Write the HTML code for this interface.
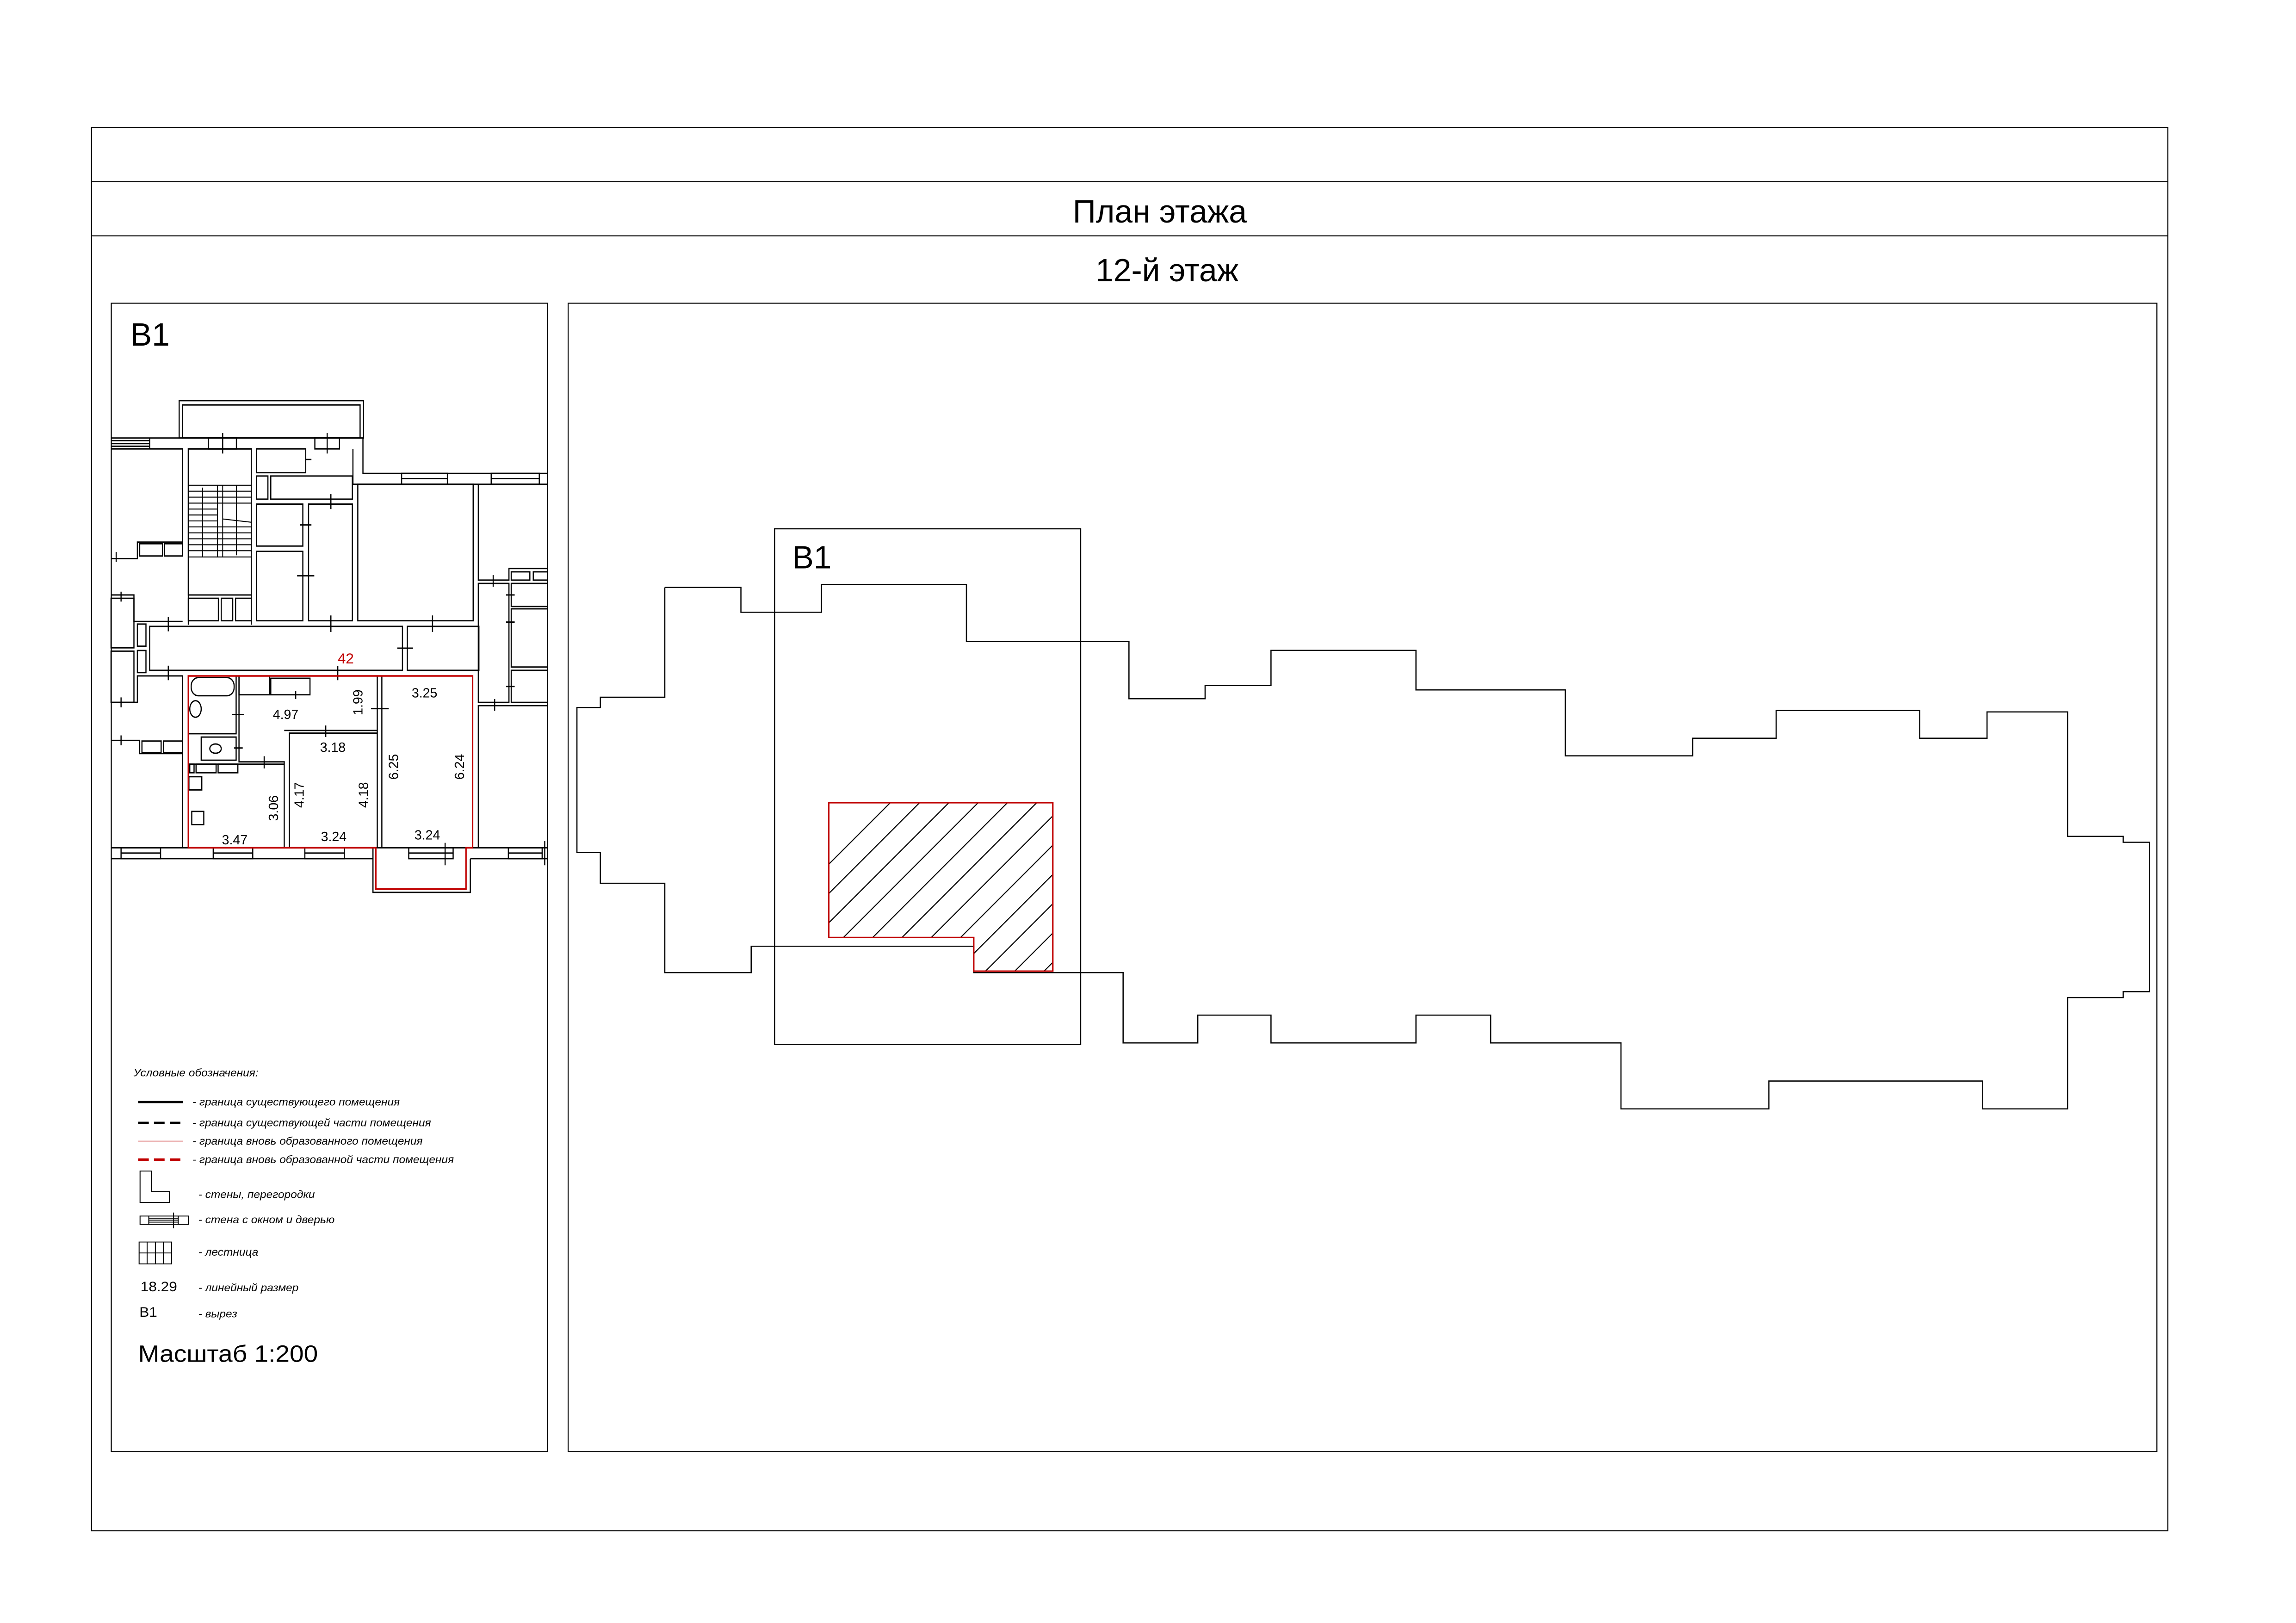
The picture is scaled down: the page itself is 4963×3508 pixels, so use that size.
<!DOCTYPE html>
<html><head><meta charset="utf-8"><style>
html,body{margin:0;padding:0;background:#fff}
svg{display:block}
text{font-family:"Liberation Sans",sans-serif}
</style></head><body>
<svg xmlns="http://www.w3.org/2000/svg" width="4963" height="3508" viewBox="0 0 1568 1108" preserveAspectRatio="none">
<rect width="1568" height="1108" fill="#fff"/>
<g fill="none" stroke="#000" stroke-width="0.7">
<rect x="62.5" y="87" width="1418" height="958"/>
<line x1="62.5" y1="124" x2="1480.5" y2="124"/>
<line x1="62.5" y1="161" x2="1480.5" y2="161"/>
<rect x="76" y="207" width="298" height="784"/>
<rect x="388" y="207" width="1085" height="784"/>
</g>
<text x="792" y="152" font-size="22" text-anchor="middle">План этажа</text>
<text x="797" y="192" font-size="22" text-anchor="middle">12-й этаж</text>
<text x="89" y="236" font-size="22">B1</text>

<polyline fill="none" stroke="#000" stroke-width="0.8" points="454,401 506,401 506,418 561,418 561,399 660,399 660,438 771,438 771,477 823,477 823,468 868,468 868,444 967,444 967,471 1069,471 1069,516 1156,516 1156,504 1213,504 1213,485 1311,485 1311,504 1357,504 1357,486 1412,486 1412,571 1450,571 1450,575 1468,575 1468,677 1450,677 1450,681 1412,681 1412,757 1354,757 1354,738 1208,738 1208,757 1107,757 1107,712 1018,712 1018,693 967,693 967,712 868,712 868,693 818,693 818,712 767,712 767,664 665,664 665,646 513,646 513,664 454,664 454,603 410,603 410,582 394,582 394,483 410,483 410,476 454,476 454,401"/>
<rect x="529" y="361" width="209" height="352" fill="none" stroke="#000" stroke-width="0.8"/>
<text x="541" y="388" font-size="22">B1</text>
<defs><clipPath id="hc"><polygon points="566,548 719,548 719,663 665,663 665,640 566,640"/></clipPath></defs>
<g clip-path="url(#hc)" stroke="#000" stroke-width="0.7">
<line x1="456" y1="700" x2="626" y2="530"/><line x1="476" y1="700" x2="646" y2="530"/><line x1="496" y1="700" x2="666" y2="530"/><line x1="516" y1="700" x2="686" y2="530"/><line x1="536" y1="700" x2="706" y2="530"/><line x1="556" y1="700" x2="726" y2="530"/><line x1="576" y1="700" x2="746" y2="530"/><line x1="596" y1="700" x2="766" y2="530"/><line x1="616" y1="700" x2="786" y2="530"/><line x1="636" y1="700" x2="806" y2="530"/><line x1="656" y1="700" x2="826" y2="530"/><line x1="676" y1="700" x2="846" y2="530"/><line x1="696" y1="700" x2="866" y2="530"/><line x1="716" y1="700" x2="886" y2="530"/>
</g>
<polygon points="566,548 719,548 719,663 665,663 665,640 566,640" fill="none" stroke="#c00000" stroke-width="1"/>

<g transform="translate(75.83,268.56) scale(0.1955,0.2256)" fill="none" stroke="#000" stroke-width="4">
<rect x="238" y="22" width="644" height="113"/>
<rect x="250" y="35" width="620" height="100"/>
<polyline points="0,135 880,135 880,242 1525,242"/>
<polyline points="0,168 250,168 250,455"/>
<line x1="0" y1="143" x2="135" y2="143"/><line x1="0" y1="152" x2="135" y2="152"/><line x1="0" y1="160" x2="135" y2="160"/>
<line x1="135" y1="135" x2="135" y2="168"/>
<rect x="340" y="135" width="98" height="33"/><rect x="712" y="135" width="86" height="33"/>
<line x1="390" y1="120" x2="390" y2="182"/><line x1="755" y1="120" x2="755" y2="182"/>
<polyline points="270,700 270,168 490,168 490,700"/>
<polyline points="845,168 845,275 1525,275"/>
<rect x="1015" y="242" width="160" height="33"/><rect x="1328" y="242" width="168" height="33"/>
<line x1="1015" y1="258" x2="1175" y2="258"/><line x1="1328" y1="258" x2="1496" y2="258"/>
<rect x="270" y="168" width="220" height="442"/>
<g stroke-width="3">
<line x1="270" y1="278" x2="490" y2="278"/><line x1="270" y1="296" x2="490" y2="296"/><line x1="270" y1="314" x2="490" y2="314"/><line x1="270" y1="332" x2="490" y2="332"/><line x1="270" y1="350" x2="372" y2="350"/><line x1="270" y1="368" x2="372" y2="368"/><line x1="270" y1="386" x2="372" y2="386"/><line x1="270" y1="404" x2="490" y2="404"/><line x1="270" y1="422" x2="490" y2="422"/><line x1="270" y1="440" x2="490" y2="440"/><line x1="270" y1="458" x2="490" y2="458"/><line x1="270" y1="476" x2="490" y2="476"/><line x1="270" y1="495" x2="490" y2="495"/>
<line x1="372" y1="278" x2="372" y2="495"/><line x1="390" y1="278" x2="390" y2="495"/>
<line x1="320" y1="285" x2="320" y2="495"/><line x1="438" y1="278" x2="438" y2="490"/>
<line x1="390" y1="380" x2="490" y2="390"/>
</g>
<rect x="270" y="620" width="105" height="68"/><rect x="385" y="620" width="40" height="68"/><rect x="435" y="620" width="55" height="68"/>
<rect x="508" y="168" width="172" height="72"/><rect x="508" y="250" width="40" height="70"/><rect x="558" y="250" width="285" height="70"/>
<rect x="508" y="335" width="162" height="127"/><rect x="508" y="478" width="162" height="210"/><rect x="690" y="335" width="153" height="353"/>
<rect x="862" y="275" width="403" height="413"/>
<line x1="680" y1="200" x2="700" y2="200"/><line x1="768" y1="305" x2="768" y2="350"/><line x1="660" y1="398" x2="700" y2="398"/><line x1="650" y1="552" x2="710" y2="552"/><line x1="768" y1="672" x2="768" y2="722"/><line x1="1123" y1="672" x2="1123" y2="722"/><line x1="200" y1="676" x2="200" y2="720"/><line x1="200" y1="824" x2="200" y2="868"/><line x1="1000" y1="771" x2="1055" y2="771"/>
<polyline points="0,500 92,500 92,450 250,450"/>
<rect x="100" y="455" width="80" height="37"/><rect x="187" y="455" width="63" height="37"/>
<line x1="18" y1="480" x2="18" y2="510"/>
<rect x="135" y="705" width="883" height="133"/><rect x="1035" y="705" width="250" height="133"/>
<polyline points="0,610 80,610 80,690 250,690"/>
<rect x="0" y="620" width="80" height="150"/><rect x="0" y="780" width="80" height="155"/>
<rect x="92" y="698" width="30" height="67"/><rect x="92" y="778" width="30" height="67"/>
<polyline points="0,935 92,935 92,855 250,855 250,1375"/>
<line x1="35" y1="600" x2="35" y2="630"/><line x1="35" y1="920" x2="35" y2="950"/><line x1="35" y1="1035" x2="35" y2="1065"/>
<polyline points="0,1050 100,1050 100,1090 250,1090"/>
<rect x="108" y="1052" width="67" height="36"/><rect x="183" y="1052" width="67" height="36"/>
<polyline points="1283,275 1283,565 1390,565 1390,530 1525,530"/>
<rect x="1283" y="575" width="107" height="360"/>
<rect x="1398" y="540" width="65" height="25"/><rect x="1475" y="540" width="50" height="25"/>
<rect x="1398" y="575" width="127" height="70"/><rect x="1398" y="652" width="127" height="176"/><rect x="1398" y="838" width="127" height="97"/>
<polyline points="1283,1375 1283,945 1525,945"/>
<line x1="1335" y1="550" x2="1335" y2="585"/><line x1="1340" y1="925" x2="1340" y2="960"/><line x1="1380" y1="610" x2="1410" y2="610"/><line x1="1380" y1="692" x2="1410" y2="692"/><line x1="1380" y1="887" x2="1410" y2="887"/>
<line x1="0" y1="1375" x2="1525" y2="1375"/><line x1="0" y1="1408" x2="915" y2="1408"/><line x1="1255" y1="1408" x2="1525" y2="1408"/>
<rect x="35" y="1375" width="138" height="33"/><rect x="357" y="1375" width="138" height="33"/><rect x="677" y="1375" width="138" height="33"/><rect x="1040" y="1375" width="155" height="33"/><rect x="1388" y="1375" width="118" height="33"/>
<line x1="35" y1="1391" x2="173" y2="1391"/><line x1="357" y1="1391" x2="495" y2="1391"/><line x1="677" y1="1391" x2="815" y2="1391"/><line x1="1040" y1="1391" x2="1195" y2="1391"/><line x1="1388" y1="1391" x2="1506" y2="1391"/>
<line x1="1167" y1="1360" x2="1167" y2="1428"/><line x1="1515" y1="1355" x2="1515" y2="1428"/>
<polyline points="915,1375 915,1510 1255,1510 1255,1408"/>
<rect x="280" y="860" width="150" height="55" rx="25"/>
<ellipse cx="295" cy="955" rx="20" ry="25"/>
<rect x="315" y="1040" width="122" height="70"/><ellipse cx="365" cy="1075" rx="20" ry="14"/>
<polyline points="437,855 437,1030 270,1030"/><polyline points="447,855 447,1115 605,1115 605,1375"/>
<rect x="447" y="855" width="106" height="57"/><rect x="558" y="862" width="137" height="50"/>
<line x1="930" y1="855" x2="930" y2="1375"/><line x1="946" y1="855" x2="946" y2="1375"/>
<polyline points="623,1375 623,1028 930,1028"/><line x1="605" y1="1020" x2="930" y2="1020"/>
<line x1="270" y1="1122" x2="605" y2="1122"/>
<rect x="275" y="1122" width="15" height="26"/><rect x="297" y="1122" width="70" height="26"/><rect x="374" y="1122" width="69" height="26"/>
<rect x="272" y="1160" width="45" height="40"/><rect x="282" y="1265" width="42" height="40"/>
<line x1="645" y1="900" x2="645" y2="925"/><line x1="422" y1="972" x2="465" y2="972"/><line x1="430" y1="1073" x2="460" y2="1073"/><line x1="535" y1="1098" x2="535" y2="1135"/><line x1="750" y1="1005" x2="750" y2="1040"/><line x1="908" y1="954" x2="970" y2="954"/><line x1="792" y1="825" x2="792" y2="868"/>
<polygon points="270,855 1263,855 1263,1375 1240,1375 1240,1500 925,1500 925,1375 270,1375" stroke="#c00000" stroke-width="5"/>
</g>
<g font-size="9" fill="#000" text-anchor="middle">
<text x="236.1" y="453" fill="#c00000" font-size="10">42</text>
<text x="195.1" y="490.8">4.97</text>
<text x="289.9" y="476.1">3.25</text>
<text x="227.3" y="513.3">3.18</text>
<text x="160.3" y="576.5">3.47</text>
<text x="227.9" y="574.2">3.24</text>
<text x="291.8" y="573.1">3.24</text>
<text transform="translate(247.5,479.5) rotate(-90)">1.99</text>
<text transform="translate(271.9,523.5) rotate(-90)">6.25</text>
<text transform="translate(316.9,523.5) rotate(-90)">6.24</text>
<text transform="translate(207.4,542.7) rotate(-90)">4.17</text>
<text transform="translate(251.4,542.7) rotate(-90)">4.18</text>
<text transform="translate(189.8,551.7) rotate(-90)">3.06</text>
</g>

<g transform="translate(75.83,726.7) scale(0.1611,0.1491)">
<g font-size="48" font-style="italic" fill="#000">
<text x="95" y="55">Условные обозначения:</text>
<text x="345" y="188">-  граница существующего помещения</text>
<text x="345" y="283">-  граница существующей части помещения</text>
<text x="345" y="367">-  граница вновь образованного помещения</text>
<text x="345" y="452">-  граница вновь образованной части помещения</text>
<text x="370" y="612">-  стены, перегородки</text>
<text x="370" y="727">-  стена с окном и дверью</text>
<text x="370" y="875">-  лестница</text>
<text x="370" y="1038">-  линейный размер</text>
<text x="370" y="1158">-  вырез</text>
</g>
<line x1="115" y1="172" x2="305" y2="172" stroke="#000" stroke-width="10"/>
<line x1="115" y1="267" x2="305" y2="267" stroke="#000" stroke-width="10" stroke-dasharray="45,22"/>
<line x1="115" y1="351" x2="305" y2="351" stroke="#c00000" stroke-width="3"/>
<line x1="115" y1="436" x2="305" y2="436" stroke="#c00000" stroke-width="12" stroke-dasharray="45,22"/>
<g fill="none" stroke="#000" stroke-width="4">
<polygon points="123,488 172,488 172,582 248,582 248,632 123,632"/>
<rect x="123" y="694" width="205" height="38"/>
<line x1="160" y1="704" x2="285" y2="704"/><line x1="160" y1="713" x2="285" y2="713"/><line x1="160" y1="722" x2="285" y2="722"/>
<line x1="160" y1="694" x2="160" y2="732"/><line x1="285" y1="694" x2="285" y2="732"/>
<line x1="265" y1="678" x2="265" y2="750"/>
<rect x="119" y="813" width="138" height="100"/>
<line x1="119" y1="863" x2="257" y2="863"/><line x1="153" y1="813" x2="153" y2="913"/><line x1="188" y1="813" x2="188" y2="913"/><line x1="222" y1="813" x2="222" y2="913"/>
</g>
<text x="125" y="1038" font-size="62" fill="#000">18.29</text>
<text x="120" y="1155" font-size="62" fill="#000">B1</text>
<text x="115" y="1362" font-size="108" fill="#000">Масштаб 1:200</text>
</g>
</svg>
</body></html>
